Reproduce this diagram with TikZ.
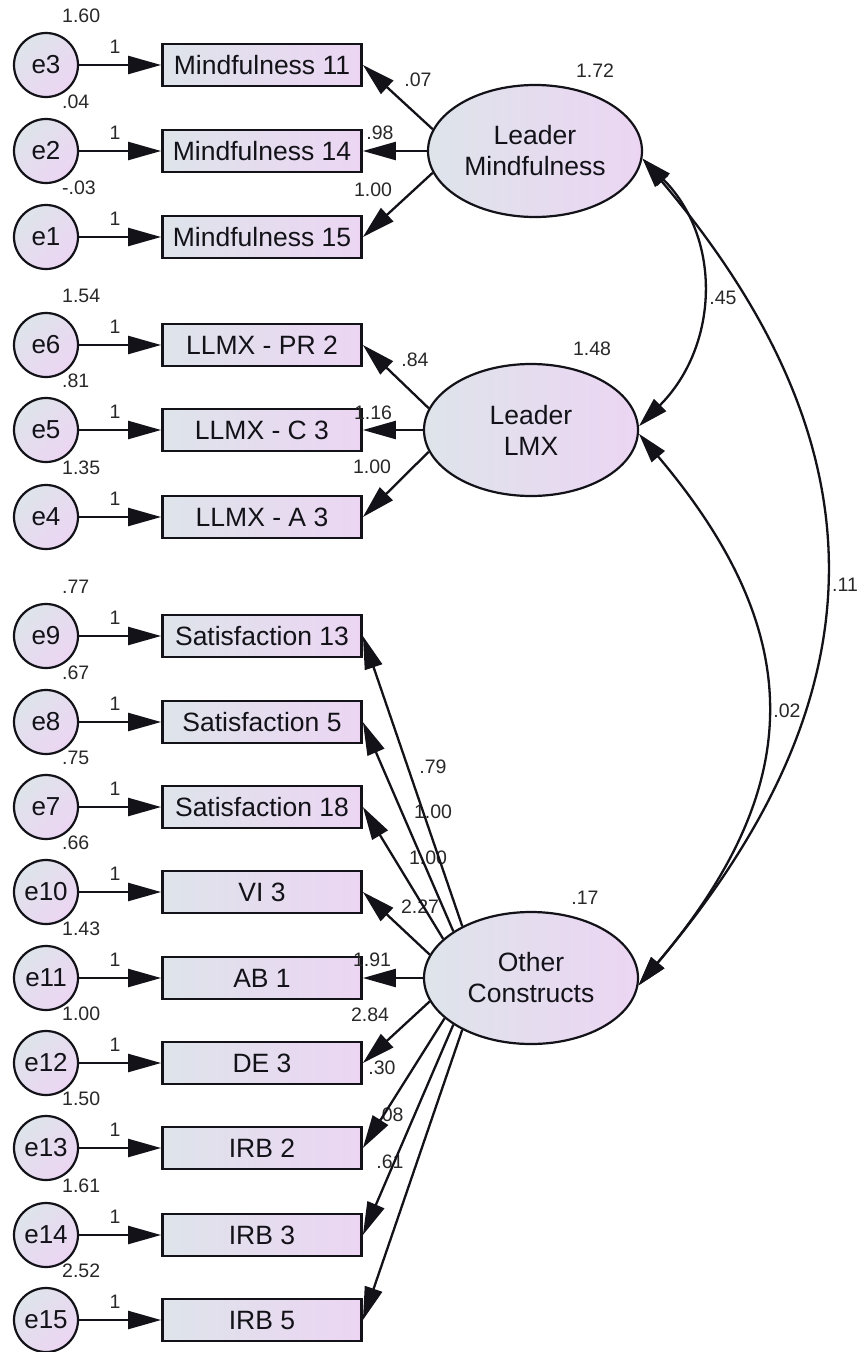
\documentclass[tikz,border=0pt]{standalone}
\usepackage{fontspec}
\setmainfont{Liberation Sans}
\usetikzlibrary{arrows.meta,shapes.geometric}

\definecolor{shadeL}{RGB}{222,228,234}
\definecolor{shadeR}{RGB}{236,213,243}
\definecolor{inkc}{RGB}{18,18,24}
\definecolor{numc}{RGB}{40,40,40}

\tikzset{
  errvar/.style={circle, draw=inkc, line width=2.2pt, minimum size=64pt, inner sep=0pt,
    left color=shadeL, right color=shadeR, shading angle=45,
    text=inkc, font=\fontsize{26}{30}\selectfont},
  obsbox/.style={rectangle, draw=inkc, line width=2.8pt, minimum width=199pt, minimum height=42pt,
    inner sep=0pt, left color=shadeL, right color=shadeR,
    text=inkc, font=\fontsize{26.5}{30}\selectfont},
  latent/.style={ellipse, draw=inkc, line width=2.2pt, minimum width=214pt, minimum height=132pt,
    inner sep=0pt, left color=shadeL, right color=shadeR, align=center,
    text=inkc, font=\fontsize{26.5}{31}\selectfont},
  lbl/.style={inner sep=0pt, text=numc, font=\fontsize{19.5}{22}\selectfont},
  varlbl/.style={lbl, anchor=west},
  regpath/.style={draw=inkc, line width=2.3pt, -{Triangle[length=33pt,width=18pt]}},
  covpath/.style={draw=inkc, line width=2.3pt,
    {Triangle[length=30pt,width=17pt]}-{Triangle[length=30pt,width=17pt]}},
}

\begin{document}
\begin{tikzpicture}[x=1pt,y=-1pt]
\useasboundingbox (0,0) rectangle (861,1352);

% ---------- latent factors ----------
\node[latent] (LM)  at (535,151) {Leader\\Mindfulness};
\node[latent] (LMX) at (531,430) {Leader\\LMX};
\node[latent] (OC)  at (531,978) {Other\\Constructs};

\node[lbl] (vLM)  at (595,71)  {1.72};
\node[lbl] (vLMX) at (592,349) {1.48};
\node[lbl] (vOC)  at (585,898) {.17};

% ---------- observed indicators and their error terms ----------
\node[obsbox] (o11) at (262,65)  {Mindfulness 11};
\node[obsbox] (o14) at (262,151) {Mindfulness 14};
\node[obsbox] (o15) at (262,237) {Mindfulness 15};
\node[obsbox] (pr2) at (262,345) {LLMX - PR 2};
\node[obsbox] (c3)  at (262,430) {LLMX - C 3};
\node[obsbox] (a3)  at (262,517) {LLMX - A 3};
\node[obsbox] (s13) at (262,636) {Satisfaction 13};
\node[obsbox] (s5)  at (262,722) {Satisfaction 5};
\node[obsbox] (s18) at (262,807) {Satisfaction 18};
\node[obsbox] (vi3) at (262,892) {VI 3};
\node[obsbox] (ab1) at (262,978) {AB 1};
\node[obsbox] (de3) at (262,1063) {DE 3};
\node[obsbox] (irb2) at (262,1148) {IRB 2};
\node[obsbox] (irb3) at (262,1235) {IRB 3};
\node[obsbox] (irb5) at (262,1320) {IRB 5};

\node[errvar] (e3)  at (46,65)   {e3};
\node[errvar] (e2)  at (46,151)  {e2};
\node[errvar] (e1)  at (46,237)  {e1};
\node[errvar] (e6)  at (46,345)  {e6};
\node[errvar] (e5)  at (46,430)  {e5};
\node[errvar] (e4)  at (46,517)  {e4};
\node[errvar] (e9)  at (46,636)  {e9};
\node[errvar] (e8)  at (46,722)  {e8};
\node[errvar] (e7)  at (46,807)  {e7};
\node[errvar] (e10) at (46,892)  {e10};
\node[errvar] (e11) at (46,978)  {e11};
\node[errvar] (e12) at (46,1063) {e12};
\node[errvar] (e13) at (46,1148) {e13};
\node[errvar] (e14) at (46,1235) {e14};
\node[errvar] (e15) at (46,1320) {e15};

% error variances
\node[varlbl] (ve3)  at (62,16)   {1.60};
\node[varlbl] (ve2)  at (62,102)  {.04};
\node[varlbl] (ve1)  at (62,188)  {-.03};
\node[varlbl] (ve6)  at (62,296)  {1.54};
\node[varlbl] (ve5)  at (62,381)  {.81};
\node[varlbl] (ve4)  at (62,468)  {1.35};
\node[varlbl] (ve9)  at (62,587)  {.77};
\node[varlbl] (ve8)  at (62,673)  {.67};
\node[varlbl] (ve7)  at (62,758)  {.75};
\node[varlbl] (ve10) at (62,843)  {.66};
\node[varlbl] (ve11) at (62,929)  {1.43};
\node[varlbl] (ve12) at (62,1014) {1.00};
\node[varlbl] (ve13) at (62,1099) {1.50};
\node[varlbl] (ve14) at (62,1186) {1.61};
\node[varlbl] (ve15) at (62,1271) {2.52};

% fixed error paths
\foreach \e/\o/\y in {e3/o11/65, e2/o14/151, e1/o15/237, e6/pr2/345, e5/c3/430, e4/a3/517,
                      e9/s13/636, e8/s5/722, e7/s18/807, e10/vi3/892, e11/ab1/978,
                      e12/de3/1063, e13/irb2/1148, e14/irb3/1235, e15/irb5/1320}{
  \draw[regpath] (\e.east) -- (\o.west);
  \node[lbl] (w\e) at (115,\y-18) {1};
}

% ---------- factor loadings ----------
\draw[regpath] (LM.168) -- (o11.east);
\draw[regpath] (LM.180) -- (o14.east);
\draw[regpath] (LM.192) -- (o15.east);
\node[lbl] (l11) at (418,80)  {.07};
\node[lbl] (l14) at (380,133) {.98};
\node[lbl] (l15) at (373,190) {1.00};

\draw[regpath] (LMX.168) -- (pr2.east);
\draw[regpath] (LMX.180) -- (c3.east);
\draw[regpath] (LMX.192) -- (a3.east);
\node[lbl] (lpr2) at (415,360) {.84};
\node[lbl] (lc3)  at (373,413) {1.16};
\node[lbl] (la3)  at (372,467) {1.00};

\node[lbl] (ls13)  at (433,767)  {.79};
\node[lbl] (ls5)   at (433,812)  {1.00};
\node[lbl] (ls18)  at (428,858)  {1.00};
\node[lbl] (lvi3)  at (420,907)  {2.27};
\node[lbl] (lab1)  at (372,960)  {1.91};
\node[lbl] (lde3)  at (370,1015) {2.84};
\node[lbl] (lirb2) at (382,1068) {.30};
\node[lbl] (lirb3) at (390,1115) {.08};
\node[lbl] (lirb5) at (390,1162) {.61};
\draw[regpath] (OC.143) -- (s13.east);
\draw[regpath] (OC.149) -- (s5.east);
\draw[regpath] (OC.156) -- (s18.east);
\draw[regpath] (OC.167) -- (vi3.east);
\draw[regpath] (OC.180) -- (ab1.east);
\draw[regpath] (OC.193) -- (de3.east);
\draw[regpath] (OC.205) -- (irb2.east);
\draw[regpath] (OC.211) -- (irb3.east);
\draw[regpath] (OC.217) -- (irb5.east);

% ---------- factor covariances ----------
\draw[covpath] (LM.-4) .. controls +(80,80) and +(80,-80) .. (LMX.2);
\draw[covpath] (LM.-4) .. controls +(245,290) and +(245,-290) .. (OC.-4);
\draw[covpath] (LMX.-2) .. controls +(169,200) and +(169,-200) .. (OC.-4);
\node[lbl] (c45) at (723,298) {.45};
\node[lbl] (c11) at (845,585) {.11};
\node[lbl] (c02) at (787,711) {.02};
\end{tikzpicture}
\end{document}
